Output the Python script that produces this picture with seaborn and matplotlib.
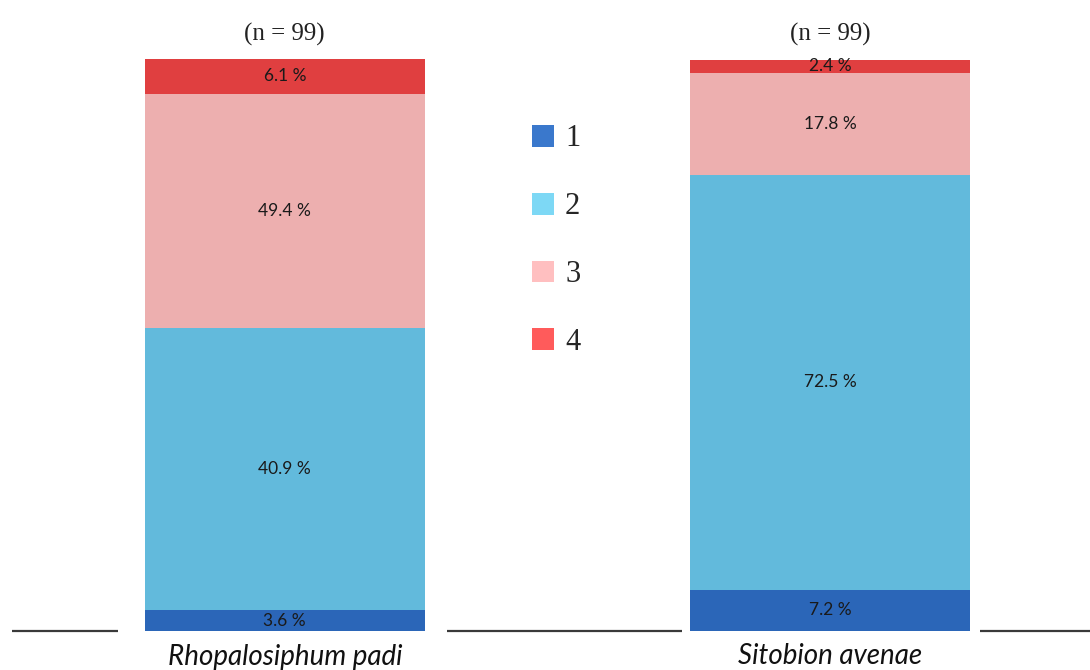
import numpy as np
import pandas as pd
import matplotlib
matplotlib.use("Agg")
import matplotlib.pyplot as plt
import matplotlib.patches as mpatches
import seaborn as sns

# data (segment heights bottom -> top)
species = ["Rhopalosiphum padi", "Sitobion avenae"]
classes = ["1", "2", "3", "4"]
heights_padi = [3.6, 49.4, 40.9, 6.1]
heights_avenae = [7.2, 72.5, 17.8, 2.4]
# printed labels as they appear on the bars
labels_padi = ["3.6 %", "40.9 %", "49.4 %", "6.1 %"]
labels_avenae = ["7.2 %", "72.5 %", "17.8 %", "2.4 %"]
n_labels = ["(n = 99)", "(n = 99)"]

bar_colors = ["#2B66B8", "#62BADC", "#EDAFAF", "#E03F40"]
legend_colors = ["#3A78CC", "#7DD8F5", "#FFBFC0", "#FF5B5B"]

df = pd.DataFrame({
    "species": np.repeat(species, len(classes)),
    "cls": classes * 2,
    "pct": heights_padi + heights_avenae,
    "label": labels_padi + labels_avenae,
})
df["bottom"] = df.groupby("species")["pct"].cumsum() - df["pct"]

sns.set_style("white")

fig = plt.figure(figsize=(10.9, 6.7), dpi=100)
ax = fig.add_axes([12 / 1090, 39 / 670, 1078 / 1090, 572 / 670])

width = 0.513
for i, c in enumerate(classes):
    sub = df[df["cls"] == c]
    sns.barplot(data=sub, x="species", y="pct", ax=ax, color=bar_colors[i],
                width=width, order=species, saturation=1, errorbar=None,
                bottom=sub["bottom"].values, linewidth=0, zorder=3)

for _, r in df.iterrows():
    xi = species.index(r["species"])
    ax.text(xi, r["bottom"] + r["pct"] / 2, r["label"], ha="center", va="center",
            fontsize=12.5, family="Lato", color="#1a1a1a", zorder=5)

for xi, t in enumerate(n_labels):
    ax.text(xi, 102.3, t, ha="center", va="bottom", fontsize=18,
            family="Liberation Serif", color="#222222", clip_on=False)

ax.set_xlim(-0.5, 1.476)
ax.set_ylim(0, 100)
ax.set_yticks([])
ax.set_xlabel("")
ax.set_ylabel("")
ax.tick_params(axis="x", length=0, pad=9)
for lab in ax.get_xticklabels():
    lab.set_fontsize(20)
    lab.set_style("italic")
    lab.set_family("Lato")
    lab.set_color("#111111")
sns.despine(ax=ax, left=True, bottom=True)

# baseline broken around the bars
pads_left = [0.05, 0.015]
pads_right = [0.04, 0.018]
x0, x1 = ax.get_xlim()
edges = [x0]
for xi in range(len(species)):
    edges += [xi - width / 2 - pads_left[xi], xi + width / 2 + pads_right[xi]]
edges.append(x1)
for a, b in zip(edges[::2], edges[1::2]):
    ax.plot([a, b], [0, 0], color="#3a3a3a", lw=1.6, solid_capstyle="butt",
            clip_on=False, zorder=2)

handles = [mpatches.Patch(facecolor=col, edgecolor="none") for col in legend_colors]
fig.legend(handles, classes, loc="upper left", bbox_to_anchor=(504 / 1090, 1 - 97 / 670),
           frameon=False, handlelength=0.72, handleheight=0.72, handletextpad=0.38,
           labelspacing=1.27, prop={"family": "Liberation Serif", "size": 22})

fig.savefig("out.png", dpi=100)
